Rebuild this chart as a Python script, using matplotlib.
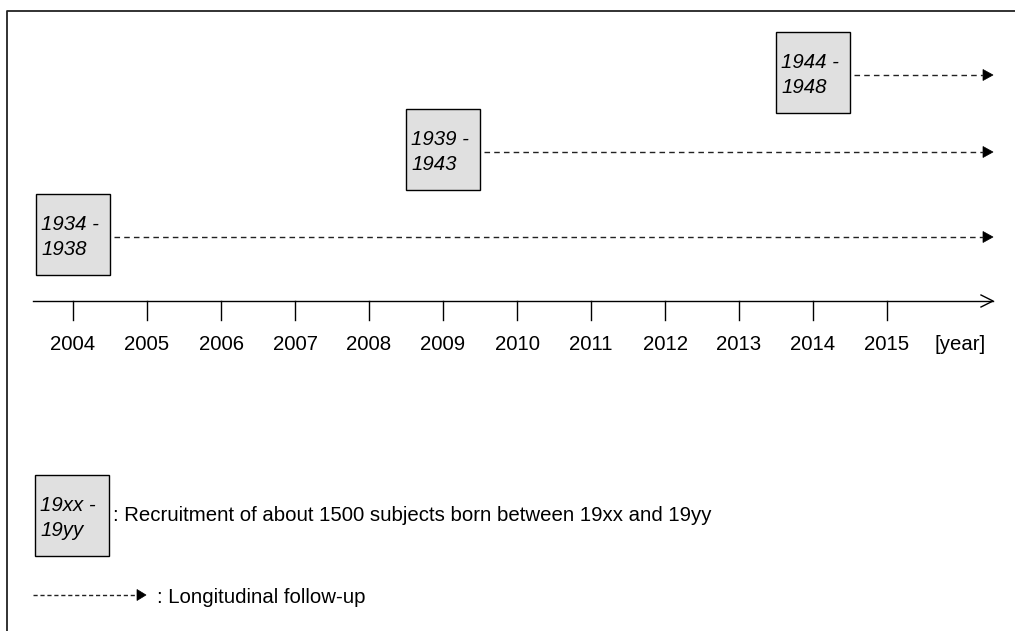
import matplotlib
matplotlib.use("Agg")
import matplotlib.pyplot as plt
from matplotlib.patches import Rectangle, Polygon

plt.rcParams["font.family"] = ["Liberation Sans", "DejaVu Sans"]

# 数据
years = [2004, 2005, 2006, 2007, 2008, 2009, 2010, 2011, 2012, 2013, 2014, 2015]
cohort_start = [2004, 2009, 2014]
cohort_labels = [("1934 -", "1938"), ("1939 -", "1943"), ("1944 -", "1948")]
cohort_rows = [237, 152, 75]          # 行的纵坐标（像素）
legend_box_text = ("19xx -", "19yy")
legend_box_note = ": Recruitment of about 1500 subjects born between 19xx and 19yy"
legend_arrow_note = ": Longitudinal follow-up"
axis_unit = "[year]"

W, H = 1015, 631
PX_PER_YEAR = 74.0
X0_PX = 73.0  # 2004 tick


def px(xp):
    """像素横坐标 -> 年份坐标"""
    return 2004 + (xp - X0_PX) / PX_PER_YEAR


BOX_FILL = "#e0e0e0"
FS = 14.7

fig = plt.figure(figsize=(W / 100, H / 100), dpi=100)
ax = fig.add_axes([0, 0, 1, 1])
ax.set_xlim(px(0), px(W))
ax.set_ylim(H, 0)
ax.axis("off")

# 外框（左、上）
ax.plot([px(7), px(7), px(W)], [H, 11, 11], color="#222222", lw=1.3)

# 时间轴
axis_y = 301
ax.plot([px(33), px(993)], [axis_y, axis_y], color="black", lw=1)
ax.plot([px(981), px(993), px(981)], [axis_y - 6, axis_y, axis_y + 6],
        color="black", lw=1)
for yr in years:
    ax.plot([yr, yr], [axis_y, 320], color="black", lw=1)
    ax.text(yr, 350, str(yr), ha="center", va="baseline", fontsize=FS)
ax.text(px(960), 350, axis_unit, ha="center", va="baseline", fontsize=FS)


def draw_box(x_center, top, lines):
    w = 1.0
    rect = Rectangle((x_center - w / 2, top), w, 81, facecolor=BOX_FILL,
                     edgecolor="black", lw=1, zorder=3)
    ax.add_patch(rect)
    left = x_center - w / 2 + 5 / PX_PER_YEAR
    ax.text(left, top + 36, lines[0], ha="left", va="baseline",
            fontsize=FS, style="italic", zorder=4)
    ax.text(left, top + 61, lines[1], ha="left", va="baseline",
            fontsize=FS, style="italic", zorder=4)


def draw_arrow(x_start, x_end, y, dashes=(4, 3), head=10):
    ax.plot([x_start, x_end - head / PX_PER_YEAR], [y, y], color="#222222",
            lw=1, dashes=dashes)
    tri = Polygon([[x_end - head / PX_PER_YEAR, y - 5.5],
                   [x_end, y],
                   [x_end - head / PX_PER_YEAR, y + 5.5]],
                  closed=True, facecolor="black", edgecolor="black", lw=0.5)
    ax.add_patch(tri)


for start, labels, row in zip(cohort_start, cohort_labels, cohort_rows):
    draw_box(start, row - 43, labels)
    draw_arrow(start + 0.5 + 4 / PX_PER_YEAR, px(993), row)

# 图例
draw_box(px(72), 475, legend_box_text)
ax.text(px(113), 521, legend_box_note, ha="left", va="baseline", fontsize=FS)
draw_arrow(px(33), px(146), 595, dashes=(3, 2), head=9)
ax.text(px(157), 603, legend_arrow_note, ha="left", va="baseline", fontsize=FS)

fig.savefig("out.png", dpi=100)
plt.close(fig)
